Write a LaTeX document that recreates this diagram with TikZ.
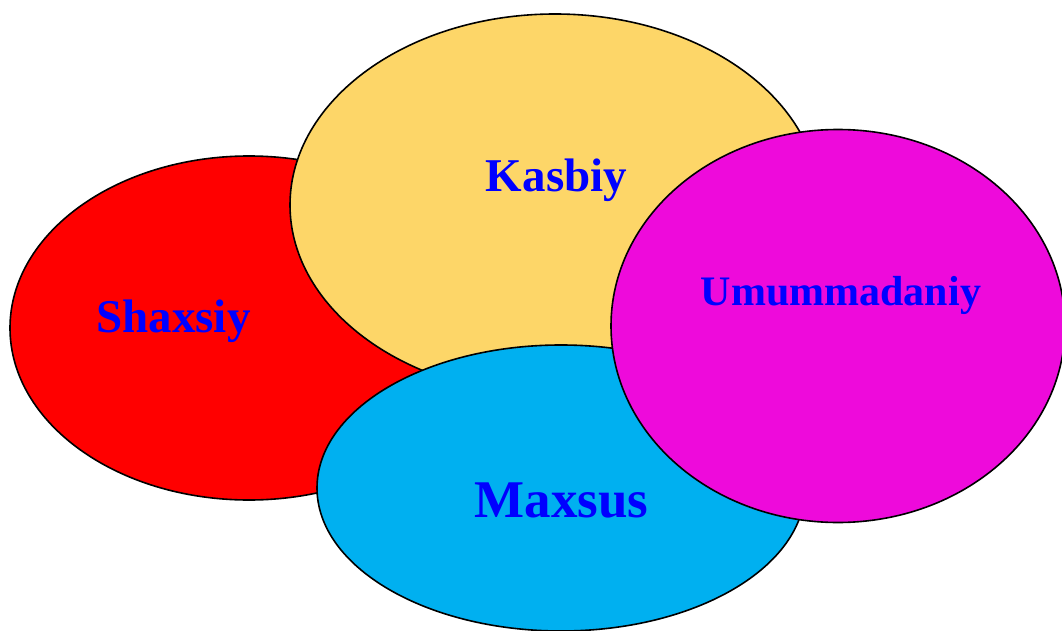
\documentclass[tikz,border=0pt]{standalone}
\usepackage{fontspec}
\setmainfont{Liberation Serif}
\usetikzlibrary{shapes.geometric}
\definecolor{cred}{HTML}{FF0000}
\definecolor{cyel}{HTML}{FDD668}
\definecolor{ccya}{HTML}{00B0F0}
\definecolor{cmag}{HTML}{EE0ADB}
\definecolor{ctxt}{HTML}{0000FF}
\tikzset{
  blob/.style={ellipse, draw=black, line width=1.6pt, inner sep=0pt, outer sep=0pt},
  lbl/.style={anchor=base, text=ctxt, font=\bfseries\fontsize{#1}{#1}\selectfont, inner sep=0pt}
}
\begin{document}
\begin{tikzpicture}[x=1pt,y=-1pt]
\useasboundingbox (0,0) rectangle (1062,631);
\node[blob, fill=cred, minimum width=478pt, minimum height=344pt] (red) at (249,328) {};
\node[blob, fill=cyel, minimum width=530pt, minimum height=382pt] (yel) at (555,205) {};
\node[blob, fill=ccya, minimum width=488pt, minimum height=286pt] (cya) at (561,488) {};
\node[blob, fill=cmag, minimum width=454pt, minimum height=393pt] (mag) at (838,326) {};
\node[lbl=47] (t1) at (173.5,332) {Shaxsiy};
\node[lbl=47] (t2) at (556.5,192) {Kasbiy};
\node[lbl=42] (t3) at (841,305) {Umummadaniy};
\node[lbl=53] (t4) at (561.5,517) {Maxsus};
\end{tikzpicture}
\end{document}
